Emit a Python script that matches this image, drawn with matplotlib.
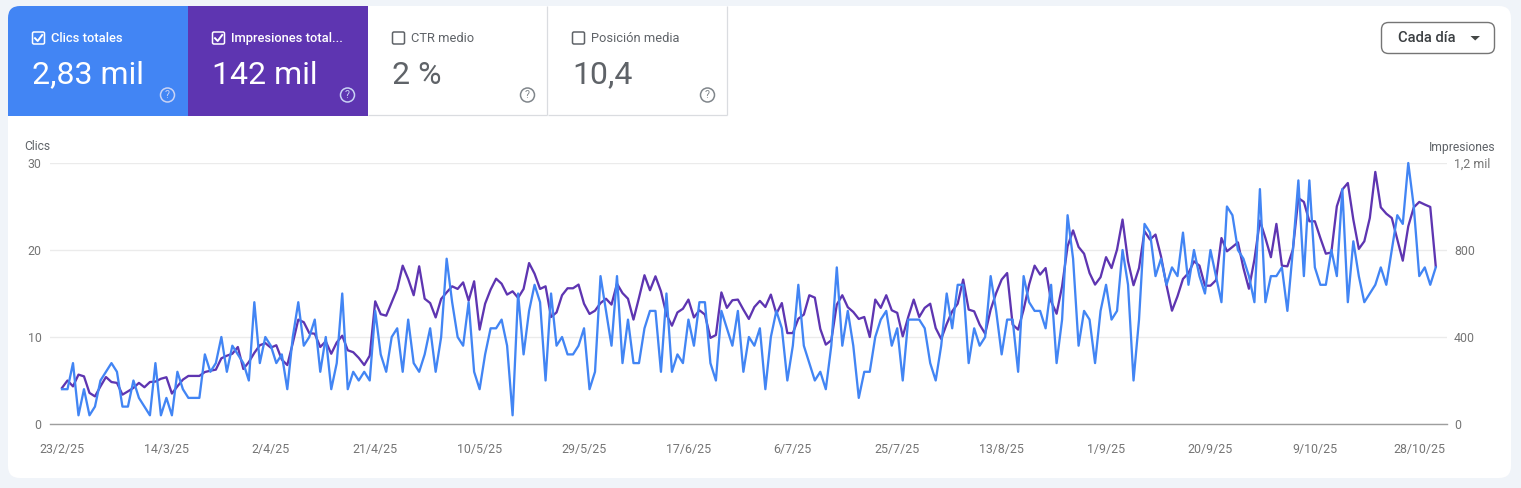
import numpy as np
import matplotlib
matplotlib.use('Agg')
import matplotlib.pyplot as plt
from matplotlib.patches import FancyBboxPatch, Rectangle, Circle, Polygon

plt.rcParams['font.family'] = ['Roboto', 'DejaVu Sans']

# daily clicks
clicks = [4, 4, 7, 1, 4, 1, 2, 5, 6, 7, 6, 2, 2, 5, 3, 2, 1, 7, 1, 3,
          1, 6, 4, 3, 3, 3, 8, 6, 7, 10, 6, 9, 8, 7, 5, 14, 7, 10, 9, 7,
          8, 4, 10, 14, 9, 10, 12, 6, 10, 4, 7, 15, 4, 6, 5, 6, 5, 13, 8, 6,
          10, 11, 6, 12, 7, 6, 8, 11, 6, 10, 19, 14, 10, 9, 14, 6, 4, 8, 11, 11,
          12, 9, 1, 15, 8, 13, 16, 14, 5, 15, 9, 10, 8, 8, 9, 11, 4, 6, 17, 13,
          9, 17, 7, 12, 7, 7, 11, 13, 13, 6, 15, 6, 8, 7, 12, 9, 14, 14, 7, 5,
          13, 11, 9, 13, 6, 10, 9, 11, 4, 10, 13, 11, 5, 9, 16, 9, 7, 5, 6, 4,
          9, 18, 9, 13, 9, 3, 6, 6, 10, 12, 13, 9, 11, 5, 12, 12, 12, 11, 7, 5,
          9, 15, 11, 16, 16, 7, 11, 9, 10, 17, 13, 8, 12, 12, 6, 17, 14, 13, 13, 11,
          16, 7, 12, 24, 19, 9, 13, 12, 7, 13, 16, 12, 13, 20, 16, 5, 12, 23, 22, 17,
          19, 16, 18, 17, 22, 16, 20, 17, 15, 20, 17, 14, 25, 24, 20, 19, 17, 14, 27, 14,
          17, 17, 18, 13, 20, 28, 17, 28, 18, 16, 16, 20, 17, 27, 14, 21, 17, 14, 15, 16,
          18, 16, 20, 24, 23, 30, 25, 17, 18, 16, 18]

# daily impressions
impressions = [166, 200, 173, 227, 219, 143, 127, 173, 216, 193, 189, 135, 150, 166, 189, 169, 193, 195, 208, 215,
               140, 173, 204, 221, 221, 221, 239, 245, 250, 302, 314, 323, 354, 253, 285, 327, 362, 372, 351, 362,
               296, 271, 372, 480, 468, 418, 415, 354, 380, 323, 375, 406, 339, 330, 304, 271, 314, 564, 505, 498,
               560, 621, 728, 667, 592, 725, 576, 556, 490, 575, 605, 633, 621, 651, 567, 656, 434, 553, 618, 668,
               645, 595, 610, 580, 621, 740, 691, 621, 633, 492, 513, 592, 624, 624, 641, 553, 506, 521, 556, 576,
               549, 645, 602, 576, 480, 580, 684, 615, 679, 610, 503, 452, 513, 530, 572, 490, 523, 503, 396, 409,
               605, 534, 569, 572, 526, 483, 538, 566, 538, 595, 507, 556, 418, 418, 484, 503, 592, 581, 437, 365,
               385, 549, 592, 537, 515, 483, 492, 400, 572, 534, 592, 523, 511, 403, 492, 572, 492, 534, 553, 441,
               391, 460, 518, 553, 664, 526, 518, 457, 415, 526, 602, 664, 694, 457, 434, 526, 641, 728, 687, 717,
               564, 507, 633, 817, 890, 814, 783, 694, 641, 675, 767, 717, 802, 940, 748, 638, 717, 886, 848, 871,
               771, 638, 521, 587, 667, 694, 748, 728, 636, 636, 661, 855, 794, 814, 835, 717, 622, 756, 935, 855,
               767, 920, 728, 725, 802, 1039, 1021, 932, 932, 855, 783, 789, 1001, 1078, 1108, 940, 805, 840, 947, 1159,
               996, 967, 947, 848, 751, 909, 996, 1021, 1009, 998, 725]

date_labels = ['23/2/25', '14/3/25', '2/4/25', '21/4/25', '10/5/25', '29/5/25', '17/6/25',
               '6/7/25', '25/7/25', '13/8/25', '1/9/25', '20/9/25', '9/10/25', '28/10/25']
clicks_ticks = [0, 10, 20, 30]
impr_ticks = [0, 400, 800, 1200]
impr_tick_labels = ['0', '400', '800', '1,2 mil']

W, H = 1521, 488
BLUE = '#4285f4'
PURPLE = '#5e35b1'
GREY = '#757575'
DARK = '#5f6368'

fig = plt.figure(figsize=(W / 100, H / 100), dpi=100, facecolor='#f0f4f9')

# page layer in pixel coordinates for the card and the tiles
bg = fig.add_axes([0, 0, 1, 1])
bg.set_xlim(0, W)
bg.set_ylim(H, 0)
bg.axis('off')

card = FancyBboxPatch((8, 6), 1503, 472, boxstyle='round,pad=0,rounding_size=12',
                      fc='white', ec='none')
bg.add_patch(card)


def tile(x, label, value, color, checked):
    w = 180
    fg = 'white' if checked else DARK
    if checked:
        r = Rectangle((x, 6), w, 110, fc=color, ec='none')
        bg.add_patch(r)
        r.set_clip_path(card)
    else:
        bg.plot([x + w - 1, x + w - 1], [6, 115], color='#dadce0', lw=0.9, solid_capstyle='butt')
        bg.plot([x, x + w - 1], [115, 115], color='#dadce0', lw=0.9, solid_capstyle='butt')
    # checkbox
    bg.add_patch(FancyBboxPatch((x + 24.5, 32), 12, 12, boxstyle='round,pad=0,rounding_size=1.5',
                                fc='none', ec=fg, lw=1.1))
    if checked:
        bg.plot([x + 27, x + 29.7, x + 34.2], [38.2, 41, 35], color='white', lw=1.4)
    bg.text(x + 43, 38.3, label, color=fg, fontsize=9.3, va='center', ha='left',
            fontweight='medium' if checked else 'normal')
    bg.text(x + 24, 75, value, color=fg, fontsize=23, va='center', ha='left')
    # help icon
    ic = '#c9d3f5' if checked else '#80868b'
    bg.add_patch(Circle((x + 159.5, 95), 7, fc='none', ec=ic, lw=1.1))
    bg.text(x + 159.5, 95.3, '?', color=ic, fontsize=7.5, va='center', ha='center')


tile(8, 'Clics totales', '2,83 mil', BLUE, True)
tile(188, 'Impresiones total...', '142 mil', PURPLE, True)
tile(368, 'CTR medio', '2 %', 'white', False)
tile(548, 'Posición media', '10,4', 'white', False)

# Cada dia dropdown
bg.add_patch(FancyBboxPatch((1381.5, 22.5), 113, 31, boxstyle='round,pad=0,rounding_size=7',
                            fc='white', ec='#757575', lw=1))
bg.text(1398, 38.5, 'Cada día', color='#3c4043', fontsize=10.6, va='center', ha='left',
        fontweight='medium')
bg.add_patch(Polygon([[1470.5, 36], [1480, 36], [1475.2, 40.5]], fc='#444746', ec='none'))

# chart axes, placed so the grid spans x 50-1447 and y 163-424
left, right, top, bottom = 50, 1447, 163, 424
ax = fig.add_axes([left / W, 1 - bottom / H, (right - left) / W, (bottom - top) / H])
ax.patch.set_alpha(0)
x0 = 62
per_day = 5.495
days = np.arange(len(clicks))
ax.set_xlim((left - x0) / per_day, (right - x0) / per_day)
ax.set_ylim(0, 30)
ax.set_yticks(clicks_ticks)
ax.set_xticks(np.arange(len(date_labels)) * 19)
ax.set_xticklabels(date_labels)
ax.grid(axis='y', color='#ebebeb', lw=1)
ax.set_axisbelow(True)
ax.tick_params(axis='both', length=0, labelcolor=GREY, labelsize=8.9)
ax.tick_params(axis='x', pad=14)
ax.tick_params(axis='y', pad=6)
for s in ['top', 'left', 'right']:
    ax.spines[s].set_visible(False)
ax.spines['bottom'].set_color('#9e9e9e')
ax.spines['bottom'].set_linewidth(1)

ax2 = ax.twinx()
ax2.patch.set_alpha(0)
ax2.set_ylim(0, 1200)
ax2.set_yticks(impr_ticks)
ax2.set_yticklabels(impr_tick_labels)
ax2.tick_params(axis='y', length=0, labelcolor=GREY, labelsize=8.9, pad=5)
for s in ['top', 'left', 'right', 'bottom']:
    ax2.spines[s].set_visible(False)

ax2.plot(days, impressions, color=PURPLE, lw=1.65, clip_on=False, zorder=2, solid_joinstyle='round')
ax3 = ax.twinx()
ax3.axis('off')
ax3.set_ylim(0, 30)
ax3.plot(days, clicks, color=BLUE, lw=1.65, clip_on=False, zorder=3, solid_joinstyle='round')

bg.text(24, 147, 'Clics', color=DARK, fontsize=8.7, va='center', ha='left')
bg.text(1495.5, 147, 'Impresiones', color=DARK, fontsize=8.7, va='center', ha='right')

fig.savefig('out.png', dpi=100, facecolor=fig.get_facecolor())
